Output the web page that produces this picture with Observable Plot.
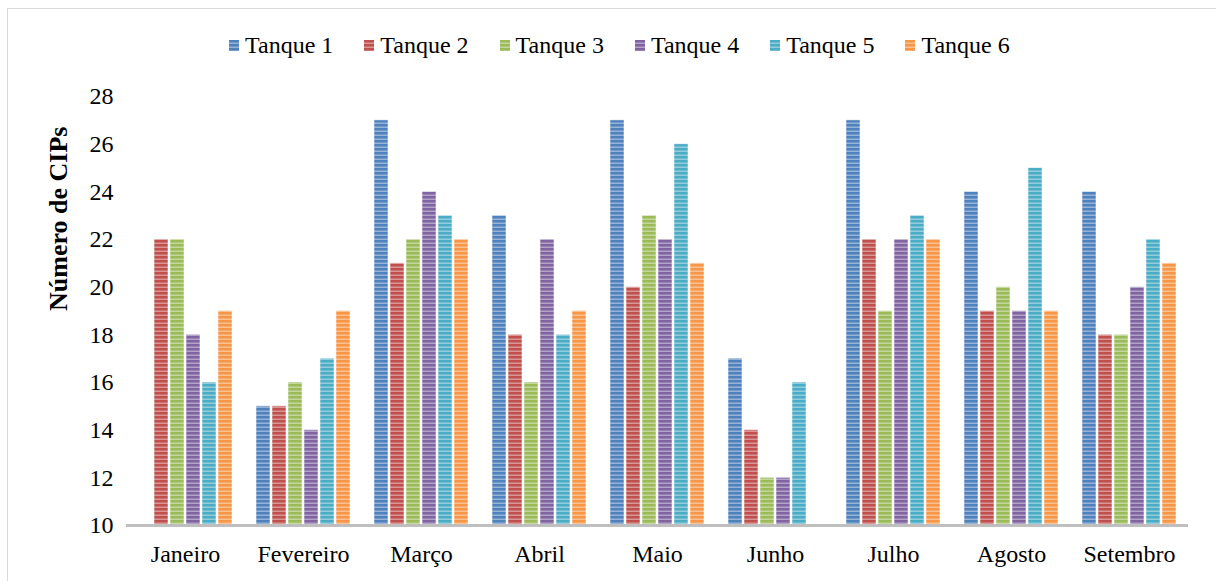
<!DOCTYPE html>
<html>
<head>
<meta charset="utf-8">
<script src="https://cdn.jsdelivr.net/npm/d3@7"></script>
<script src="https://cdn.jsdelivr.net/npm/@observablehq/plot@0.6"></script>
<style>
  body { margin: 0; background: #fff; font-family: "Liberation Serif", "DejaVu Serif"; }
  #wrap { position: relative; width: 1216px; height: 581px; overflow: hidden; background: #fff; }
  #frame { position: absolute; left: 7px; top: 8px; width: 1400px; height: 800px;
           border-top: 1px solid #d9d9d9; border-left: 1px solid #d9d9d9; pointer-events: none; }
  #legend { position: absolute; top: 30px; left: 229px; height: 30px; display: flex; align-items: center;
            gap: 31px; font-size: 24px; color: #000; white-space: nowrap; }
  .item { display: flex; align-items: center; gap: 6px; }
  #chart { position: absolute; top: 80px; left: 0; }
</style>
</head>
<body>
<svg width="0" height="0" style="position:absolute"><defs id="defs"></defs></svg>
<div id="wrap">
  <div id="frame"></div>
  <div id="legend"></div>
  <div id="chart"></div>
</div>
<script>
// ---- data ----
const months = ["Janeiro", "Fevereiro", "Março", "Abril", "Maio", "Junho", "Julho", "Agosto", "Setembro"];
const tanks = ["Tanque 1", "Tanque 2", "Tanque 3", "Tanque 4", "Tanque 5", "Tanque 6"];
const tanque1 = [10, 15, 27, 23, 27, 17, 27, 24, 24];
const tanque2 = [22, 15, 21, 18, 20, 14, 22, 19, 18];
const tanque3 = [22, 16, 22, 16, 23, 12, 19, 20, 18];
const tanque4 = [18, 14, 24, 22, 22, 12, 22, 19, 20];
const tanque5 = [16, 17, 23, 18, 26, 16, 23, 25, 22];
const tanque6 = [19, 19, 22, 19, 21, 10, 22, 19, 21];
const yTicks = [10, 12, 14, 16, 18, 20, 22, 24, 26, 28];
const yTitle = "Número de CIPs";

// ---- styles ----
const colors = ["#4F81BD", "#C0504D", "#9BBB59", "#8064A2", "#4BACC6", "#F79646"];
const FONT = "'Liberation Serif', 'DejaVu Serif'";

const series = [tanque1, tanque2, tanque3, tanque4, tanque5, tanque6];
const data = [];
months.forEach((m, i) => tanks.forEach((t, j) => data.push({month: m, tank: t, value: series[j][i]})));

// striped patterns
const defs = document.getElementById("defs");
const NS = "http://www.w3.org/2000/svg";
colors.forEach((c, i) => {
  const p = document.createElementNS(NS, "pattern");
  p.setAttribute("id", "pat" + i);
  p.setAttribute("patternUnits", "userSpaceOnUse");
  p.setAttribute("width", 8);
  p.setAttribute("height", 4);
  const r1 = document.createElementNS(NS, "rect");
  r1.setAttribute("width", 8); r1.setAttribute("height", 4); r1.setAttribute("fill", c);
  const r2 = document.createElementNS(NS, "rect");
  r2.setAttribute("y", 2.5); r2.setAttribute("width", 8); r2.setAttribute("height", 1.5);
  r2.setAttribute("fill", "#fff"); r2.setAttribute("fill-opacity", 0.4);
  p.appendChild(r1); p.appendChild(r2);
  defs.appendChild(p);
});
const patterns = colors.map((c, i) => `url(#pat${i})`);

// legend
const legend = document.getElementById("legend");
tanks.forEach((t, i) => {
  const it = document.createElement("div");
  it.className = "item";
  it.innerHTML = `<svg width="10" height="11"><rect width="10" height="11" fill="${patterns[i]}"/></svg><span>${t}</span>`;
  legend.appendChild(it);
});

const chart = Plot.plot({
  width: 1216,
  height: 501,
  marginTop: 16,
  marginBottom: 56,
  marginLeft: 125,
  marginRight: 28,
  style: {fontFamily: FONT, fontSize: "24px", color: "#000", background: "transparent", overflow: "visible"},
  fx: {domain: months, padding: 0, label: null, axis: "bottom", tickSize: 0, tickPadding: 19},
  x: {domain: tanks, paddingInner: 0.15, paddingOuter: 0.63, axis: null},
  y: {domain: [10, 28], ticks: yTicks, tickSize: 0, tickPadding: 13, label: null},
  color: {domain: tanks, range: patterns},
  marks: [
    Plot.barY(data, {fx: "month", x: "tank", y1: 10, y2: "value", fill: "tank",
                     stroke: "#fff", strokeOpacity: 0.5, strokeWidth: 1}),
    Plot.ruleY([10], {stroke: "#bfbfbf", strokeWidth: 3}),
    Plot.text([yTitle], {text: d => d, facet: "super", frameAnchor: "left", dx: -68, rotate: -90,
                         fontWeight: "bold", fontSize: 26, lineAnchor: "middle", fontFamily: FONT})
  ]
});
document.getElementById("chart").appendChild(chart);
</script>
</body>
</html>
